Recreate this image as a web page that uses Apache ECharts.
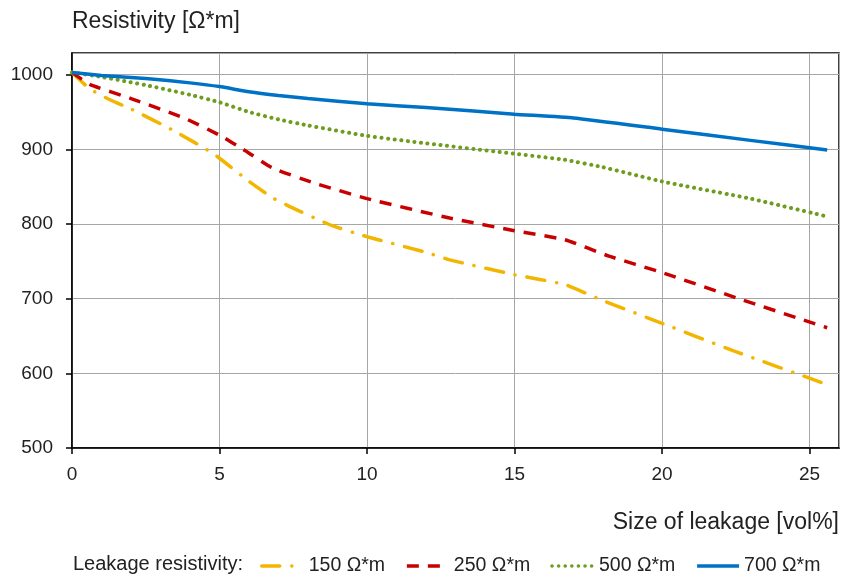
<!DOCTYPE html>
<html>
<head>
<meta charset="utf-8">
<script src="https://cdn.jsdelivr.net/npm/echarts@6/dist/echarts.min.js"></script>
<style>
  html, body { margin: 0; padding: 0; background: #fff; }
  #chart { width: 845px; height: 577px; }
</style>
</head>
<body>
<div id="chart"></div>
<script>
// Resistivity versus leakage size, one curve per leakage resistivity
const seriesNames = ['150 Ω*m', '250 Ω*m', '500 Ω*m', '700 Ω*m'];

const x150 = [0, 0.6, 1.3, 2, 3.4, 4.8, 6, 6.8, 7.4, 8.8, 10, 12, 12.8, 15, 16.7, 17.9, 20, 22.5, 25.6];
const y150 = [1003, 981, 966, 954, 926, 894, 857, 835, 823, 798, 783, 762, 752, 732, 719, 699, 667, 629, 585];

const x250 = [0, 0.6, 2, 3.8, 5, 5.8, 6.8, 8.2, 10, 12.8, 15, 16.7, 18.2, 20, 22.6, 25.6];
const y250 = [1003, 987, 968, 942, 919, 900, 875, 855, 834, 808, 791, 779, 757, 735, 700, 661];

const x500 = [0, 1, 2.5, 4, 5, 6, 7, 8, 10, 12, 15, 16.7, 18, 20, 23, 25.6];
const y500 = [1003, 997, 986, 973, 963, 950, 940, 932, 918, 908, 894, 886, 876, 857, 834, 810];

const x700 = [0, 1, 2.5, 4, 5, 6, 7, 8, 10, 12, 15, 17, 20, 23, 25.6];
const y700 = [1003, 999, 995, 989, 984, 977, 972, 968, 961, 956, 947, 942, 927, 912, 899];

const FONT = '"Liberation Sans", Arial, sans-serif';

function pairs(xs, ys) {
  return xs.map((x, i) => [x, ys[i]]);
}

function lineSeries(name, xs, ys, color, dash, cap, width) {
  return {
    name: name,
    type: 'line',
    data: pairs(xs, ys),
    symbol: 'none',
    smooth: 0.15,
    lineStyle: { color: color, width: width, type: dash, cap: cap },
    itemStyle: { color: color }
  };
}

const chart = echarts.init(document.getElementById('chart'), null, { renderer: 'canvas' });

chart.setOption({
  animation: false,
  backgroundColor: '#fff',
  textStyle: { fontFamily: FONT },
  grid: {
    left: 72, right: 6, top: 53, bottom: 129,
    show: true, borderColor: '#000', borderWidth: 1.5, backgroundColor: 'transparent'
  },
  legend: {
    left: 255, top: 551,
    itemWidth: 42, itemHeight: 14, itemGap: 20,
    itemStyle: { opacity: 0 },
    lineStyle: { width: 3.5 },
    textStyle: { fontFamily: FONT, fontSize: 19.5, color: '#222' },
    data: seriesNames
  },
  graphic: [{
    type: 'text', left: 73, top: 554,
    style: { text: 'Leakage resistivity:', font: '20px ' + FONT, fill: '#222' }
  }],
  xAxis: {
    type: 'value', min: 0, max: 26, interval: 5,
    name: 'Size of leakage [vol%]', nameLocation: 'end', nameGap: 0,
    nameTextStyle: { fontSize: 23, color: '#222', align: 'right', verticalAlign: 'top', padding: [63, 0, 0, 0] },
    axisLine: { show: true, lineStyle: { color: '#000', width: 1.5 } },
    axisTick: { show: true, length: 6, lineStyle: { color: '#000', width: 1.5 } },
    axisLabel: { fontSize: 19, color: '#222', margin: 17, showMaxLabel: false },
    splitLine: { show: true, lineStyle: { color: '#a6a6a6', width: 1 } }
  },
  yAxis: {
    type: 'value', min: 500, max: 1029, interval: 100,
    name: 'Resistivity [Ω*m]', nameLocation: 'end', nameGap: 20,
    nameTextStyle: { fontSize: 23, color: '#222', align: 'left' },
    axisLine: { show: true, lineStyle: { color: '#000', width: 1.5 } },
    axisTick: { show: true, length: 6, lineStyle: { color: '#000', width: 1.5 } },
    axisLabel: { fontSize: 19, color: '#222', margin: 19, showMaxLabel: false, formatter: v => String(v) },
    splitLine: { show: true, lineStyle: { color: '#a6a6a6', width: 1 } }
  },
  series: [
    lineSeries(seriesNames[0], x150, y150, '#f2b600', [18, 12, 0.1, 12], 'round', 3.5),
    lineSeries(seriesNames[1], x250, y250, '#c80000', [12, 9], 'butt', 3.5),
    lineSeries(seriesNames[2], x500, y500, '#6e9d1e', [0.1, 6.5], 'round', 4),
    lineSeries(seriesNames[3], x700, y700, '#0072c6', 'solid', 'butt', 3.5)
  ]
});
</script>
</body>
</html>
